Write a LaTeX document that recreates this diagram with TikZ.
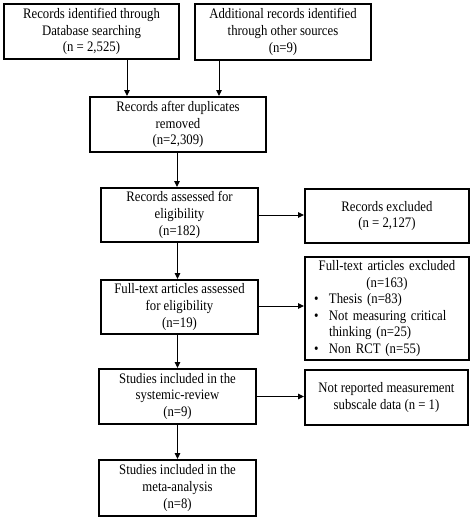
\documentclass[tikz,border=0pt]{standalone}
\usepackage{fontspec}
\setmainfont[FakeStretch=0.88]{Liberation Serif}
\usetikzlibrary{arrows.meta}

\newcommand{\bul}{\makebox[17pt][l]{\hspace{2pt}\textbullet}}

\begin{document}
\begin{tikzpicture}[x=1pt, y=-1pt,
        box/.style={draw, line width=2pt, align=center, inner sep=0pt,
            font=\fontsize{14.5}{16.6}\selectfont},
        arr/.style={line width=1pt, -{Triangle[length=6pt, width=5.5pt]}}]
    \useasboundingbox (0,0) rectangle (472,519);

    \node[box, minimum width=175pt, minimum height=55pt] (ident) at (91.5,31.5) {Records identified through\\Database searching\\(n = 2,525)};
    \node[box, minimum width=176pt, minimum height=56pt] (other) at (283,32) {Additional records identified\\through other sources\\(n=9)};
    \node[box, minimum width=176pt, minimum height=55pt] (dupl) at (178,124.5) {Records after duplicates\\removed\\(n=2,309)};
    \node[box, minimum width=157pt, minimum height=54pt] (assess) at (179.5,215) {Records assessed for\\eligibility\\(n=182)};
    \node[box, minimum width=164pt, minimum height=54pt] (recexcl) at (387,216) {Records excluded\\(n = 2,127)};
    \node[box, minimum width=157pt, minimum height=54pt] (fulltext) at (179.5,307) {Full-text articles assessed\\for eligibility\\(n=19)};
    \node[box, minimum width=164pt, minimum height=103pt, text width=150pt, align=left] (ftexcl) at (387,308.5)
        {\makebox[150pt]{Full-text articles excluded}\\
         \makebox[150pt]{(n=163)}\\
         \bul Thesis (n=83)\\
         \bul Not measuring critical\\
         \hspace*{17pt}thinking (n=25)\\
         \bul Non RCT (n=55)};
    \node[box, minimum width=157pt, minimum height=55pt] (review) at (177.5,396.5) {Studies included in the\\systemic-review\\(n=9)};
    \node[box, minimum width=163pt, minimum height=55pt] (subscale) at (386.5,397.5) {Not reported measurement\\subscale data (n = 1)};
    \node[box, minimum width=157pt, minimum height=56pt] (meta) at (177.5,488) {Studies included in the\\meta-analysis\\(n=8)};

    % connectors
    \draw[arr] ([xshift=35.5pt]ident.south) -- ([xshift=35.5pt]ident.south |- dupl.north);
    \draw[arr] ([xshift=-64pt]other.south) -- ([xshift=-64pt]other.south |- dupl.north);
    \draw[arr] ([xshift=-1pt]dupl.south) -- ([xshift=-1pt]dupl.south |- assess.north);
    \draw[arr] (assess.east) -- (assess.east -| recexcl.west);
    \draw[arr] ([xshift=-2pt]assess.south) -- ([xshift=-2pt]assess.south |- fulltext.north);
    \draw[arr] ([yshift=1pt]fulltext.east) -- ([yshift=1pt]fulltext.east -| ftexcl.west);
    \draw[arr] ([xshift=-2pt]fulltext.south) -- ([xshift=-2pt]fulltext.south |- review.north);
    \draw[arr] (review.east) -- (review.east -| subscale.west);
    \draw[arr] (review.south) -- (review.south |- meta.north);
\end{tikzpicture}
\end{document}
